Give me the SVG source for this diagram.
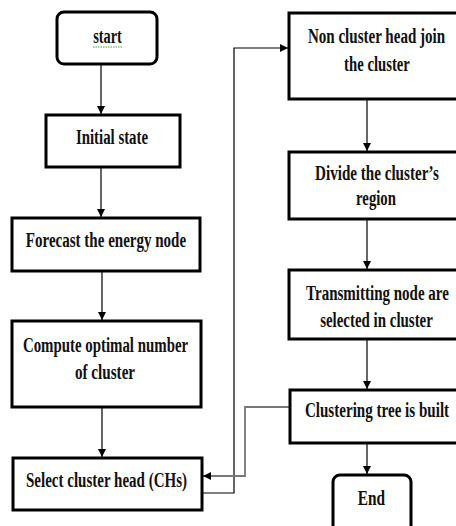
<svg xmlns="http://www.w3.org/2000/svg" width="456" height="526" viewBox="0 0 456 526">
<defs>
<marker id="ah" markerUnits="userSpaceOnUse" markerWidth="10" markerHeight="10" refX="8" refY="4" orient="auto">
<path d="M0,0 L8,4 L0,8 Z" fill="#000"/>
</marker>
<style>
.box{fill:#fff;stroke:#000;stroke-width:3}
.t{font-family:"Liberation Serif","Times New Roman",serif;font-weight:bold;font-size:21px;fill:#111;text-anchor:middle}
.c{fill:none;stroke:#000;stroke-width:1.2}
.g{fill:none;stroke:#777;stroke-width:1.8}
</style>
</defs>
<rect width="456" height="526" fill="#fff"/>
<g id="connectors">
<line class="c" x1="101" y1="64" x2="101" y2="114" marker-end="url(#ah)"/>
<line class="c" x1="101" y1="167" x2="101" y2="217" marker-end="url(#ah)"/>
<line class="c" x1="102" y1="271" x2="102" y2="320" marker-end="url(#ah)"/>
<line class="c" x1="102" y1="407" x2="102" y2="457" marker-end="url(#ah)"/>
<polyline class="c" points="202,493 234,493 234,48 288,48" marker-end="url(#ah)"/>
<line class="c" x1="367" y1="99" x2="367" y2="151" marker-end="url(#ah)"/>
<line class="c" x1="367" y1="219" x2="367" y2="269" marker-end="url(#ah)"/>
<line class="c" x1="367" y1="339" x2="367" y2="389" marker-end="url(#ah)"/>
<line class="c" x1="367" y1="443" x2="367" y2="474" marker-end="url(#ah)"/>
<polyline class="g" points="290,407 245,407 245,476 203,476" marker-end="url(#ah)"/>
</g>
<g id="start">
<rect class="box" x="57" y="12" width="100" height="52" rx="7"/>
<text class="t" transform="translate(107.5 43) scale(0.7 1)" textLength="41" lengthAdjust="spacingAndGlyphs">start</text>
<path d="M93,47 L122,47" stroke="#3a3" stroke-width="1" stroke-dasharray="1.5,1"/>
</g>
<g id="initial">
<rect class="box" x="46" y="115" width="134" height="52"/>
<text class="t" transform="translate(112 144) scale(0.7 1)" textLength="103" lengthAdjust="spacingAndGlyphs">Initial state</text>
</g>
<g id="forecast">
<rect class="box" x="12" y="218" width="188" height="53"/>
<text class="t" transform="translate(106 247) scale(0.7 1)" textLength="229" lengthAdjust="spacingAndGlyphs">Forecast the energy node</text>
</g>
<g id="compute">
<rect class="box" x="12" y="321" width="189" height="86"/>
<text class="t" transform="translate(105.5 352) scale(0.7 1)" textLength="236" lengthAdjust="spacingAndGlyphs">Compute optimal number</text>
<text class="t" transform="translate(105 379) scale(0.7 1)" textLength="86" lengthAdjust="spacingAndGlyphs">of cluster</text>
</g>
<g id="select">
<rect class="box" x="13" y="458" width="189" height="52"/>
<text class="t" transform="translate(106.5 487) scale(0.7 1)" textLength="230" lengthAdjust="spacingAndGlyphs">Select cluster head (CHs)</text>
</g>
<g id="noncluster">
<rect class="box" x="289" y="13" width="180" height="86"/>
<text class="t" transform="translate(376.5 43) scale(0.7 1)" textLength="196" lengthAdjust="spacingAndGlyphs">Non cluster head join</text>
<text class="t" transform="translate(377 71) scale(0.7 1)" textLength="94" lengthAdjust="spacingAndGlyphs">the cluster</text>
</g>
<g id="divide">
<rect class="box" x="289" y="152" width="180" height="67"/>
<text class="t" transform="translate(377 180) scale(0.7 1)" textLength="177" lengthAdjust="spacingAndGlyphs">Divide the cluster’s</text>
<text class="t" transform="translate(376 205) scale(0.7 1)" textLength="57" lengthAdjust="spacingAndGlyphs">region</text>
</g>
<g id="transmitting">
<rect class="box" x="289" y="270" width="180" height="69"/>
<text class="t" transform="translate(377.5 300) scale(0.7 1)" textLength="204" lengthAdjust="spacingAndGlyphs">Transmitting node are</text>
<text class="t" transform="translate(376.5 327) scale(0.7 1)" textLength="161" lengthAdjust="spacingAndGlyphs">selected in cluster</text>
</g>
<g id="clustering">
<rect class="box" x="290" y="390" width="180" height="53"/>
<text class="t" transform="translate(377 417) scale(0.7 1)" textLength="206" lengthAdjust="spacingAndGlyphs">Clustering tree is built</text>
</g>
<g id="end">
<rect class="box" x="333" y="475" width="78" height="58" rx="7"/>
<text class="t" transform="translate(371.5 505) scale(0.7 1)" textLength="39" lengthAdjust="spacingAndGlyphs">End</text>
</g>
</svg>
